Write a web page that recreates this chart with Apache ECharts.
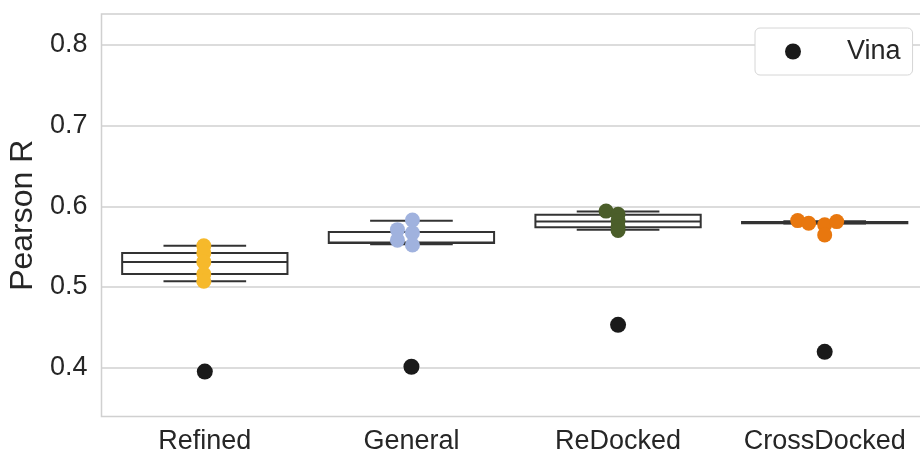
<!DOCTYPE html>
<html>
<head>
<meta charset="utf-8">
<script src="https://cdn.jsdelivr.net/npm/echarts@6/dist/echarts.min.js"></script>
<style>html,body{margin:0;padding:0;background:#fff;}#chart{width:920px;height:454px;}</style>
</head>
<body>
<div id="chart"></div>
<script>
// ---- data ----
const categories = ['Refined', 'General', 'ReDocked', 'CrossDocked'];
const yTicks = [0.4, 0.5, 0.6, 0.7, 0.8];
// box statistics per category
const whiskerLow  = [0.507, 0.553, 0.571, 0.5785];
const q1          = [0.516, 0.5545, 0.574, 0.579];
const median      = [0.531, 0.555, 0.581, 0.5797];
const q3          = [0.542, 0.568, 0.5895, 0.5805];
const whiskerHigh = [0.551, 0.582, 0.5935, 0.5815];
// per-run points
const refinedPoints     = [0.551, 0.542, 0.531, 0.516, 0.507];
const generalPoints     = [0.583, 0.571, 0.567, 0.558, 0.552];
const redockedPoints    = [0.594, 0.590, 0.582, 0.575, 0.570];
const crossdockedPoints = [0.5822, 0.579, 0.577, 0.581, 0.5645];
// Vina baseline
const vinaValues = [0.395, 0.401, 0.453, 0.4195];

// ---- styles (pixel jitter of strip points) ----
const stripJitter = [
  [-1, -1, -1, -1, -1],
  [1, -14, 1, -14, 1],
  [-12, 0, 0, 0, 0],
  [-27, -16, 0, 12, 0]
];
const stripColors = ['#F6B92B', '#A0B2DE', '#4B5E2A', '#E8770E'];
const pointGroups = [refinedPoints, generalPoints, redockedPoints, crossdockedPoints];
const textColor = '#262626';
const font = 'Liberation Sans, Arial, Helvetica, sans-serif';

const chart = echarts.init(document.getElementById('chart'), null, {renderer: 'canvas'});

const boxData = categories.map((c, i) => [i, whiskerLow[i], q1[i], median[i], q3[i], whiskerHigh[i]]);

const stripSeries = pointGroups.map((pts, gi) => ({
  name: categories[gi] + ' runs',
  type: 'scatter',
  symbol: 'circle',
  symbolSize: 15,
  z: 3,
  itemStyle: {color: stripColors[gi], opacity: 1},
  data: pts.map((v, k) => ({value: [gi, v], symbolOffset: [stripJitter[gi][k], 0]}))
}));

const option = {
  animation: false,
  backgroundColor: '#ffffff',
  grid: {
    left: 101.5, right: -8, top: 14, bottom: 37.5,
    outerBoundsMode: 'none',
    containLabel: false,
    show: true, borderColor: '#d0d0d0', borderWidth: 1.5, backgroundColor: 'transparent'
  },
  legend: {
    data: ['Vina'],
    left: 755, top: 28,
    itemWidth: 16, itemHeight: 16,
    padding: [10, 12, 10, 30],
    borderColor: '#d6d6d6', borderWidth: 1, borderRadius: 5,
    backgroundColor: '#ffffff',
    textStyle: {fontSize: 27, color: textColor, fontFamily: font, padding: [0, 0, 0, 41]}
  },
  xAxis: {
    type: 'category',
    data: categories,
    boundaryGap: true,
    axisLine: {show: false},
    axisTick: {show: false},
    splitLine: {show: false},
    axisLabel: {interval: 0, hideOverlap: false, fontSize: 27, color: textColor, fontFamily: font, margin: 12}
  },
  yAxis: {
    type: 'value',
    min: 0.3393, max: 0.8384,
    name: 'Pearson R',
    nameLocation: 'middle',
    nameGap: 61,
    nameTextStyle: {fontSize: 32, color: textColor, fontFamily: font},
    axisLine: {show: false},
    axisTick: {show: false, customValues: yTicks},
    splitLine: {show: true, lineStyle: {color: '#d0d0d0', width: 1.5}},
    axisLabel: {
      customValues: yTicks,
      fontSize: 27, color: textColor, fontFamily: font, margin: 14,
      formatter: v => v.toFixed(1)
    }
  },
  series: [
    {
      name: 'box',
      type: 'custom',
      z: 2,
      encode: {x: 0, y: [1, 2, 3, 4, 5]},
      data: boxData,
      renderItem: function (params, api) {
        const cat = api.value(0);
        const pLo = api.coord([cat, api.value(1)]);
        const pQ1 = api.coord([cat, api.value(2)]);
        const pMed = api.coord([cat, api.value(3)]);
        const pQ3 = api.coord([cat, api.value(4)]);
        const pHi = api.coord([cat, api.value(5)]);
        const band = api.size([1, 0])[0];
        const bw = band * 0.8;
        const cx = pMed[0];
        const stroke = '#333333';
        const lw = 2;
        const ls = {stroke: stroke, lineWidth: lw, fill: null};
        return {
          type: 'group',
          children: [
            {type: 'line', shape: {x1: cx, y1: pQ3[1], x2: cx, y2: pHi[1]}, style: ls},
            {type: 'line', shape: {x1: cx, y1: pQ1[1], x2: cx, y2: pLo[1]}, style: ls},
            {type: 'line', shape: {x1: cx - bw / 4, y1: pHi[1], x2: cx + bw / 4, y2: pHi[1]}, style: ls},
            {type: 'line', shape: {x1: cx - bw / 4, y1: pLo[1], x2: cx + bw / 4, y2: pLo[1]}, style: ls},
            {type: 'rect', shape: {x: cx - bw / 2, y: pQ3[1], width: bw, height: pQ1[1] - pQ3[1]},
              style: {fill: '#ffffff', stroke: stroke, lineWidth: lw}},
            {type: 'line', shape: {x1: cx - bw / 2, y1: pMed[1], x2: cx + bw / 2, y2: pMed[1]}, style: ls}
          ]
        };
      }
    },
    ...stripSeries,
    {
      name: 'Vina',
      type: 'scatter',
      symbol: 'circle',
      symbolSize: 16,
      z: 4,
      itemStyle: {color: '#1a1a1a', opacity: 1},
      data: vinaValues.map((v, i) => [i, v])
    }
  ]
};
chart.setOption(option);
</script>
</body>
</html>
